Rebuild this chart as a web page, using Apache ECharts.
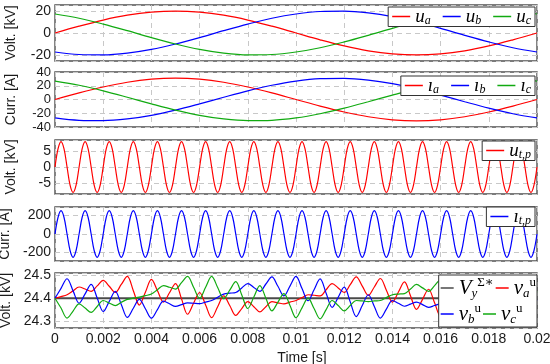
<!DOCTYPE html>
<html><head><meta charset="utf-8">
<script src="https://cdn.jsdelivr.net/npm/echarts@6/dist/echarts.min.js"></script>
<style>html,body{margin:0;padding:0;background:#fff}#c{width:550px;height:364px}</style>
</head><body><div id="c"></div>
<script>
// ---- grid-side (50 Hz) quantities, sampled every 1 ms ----
const stepSlow = 0.001;
const uA = [0,6.2,11.8,16.2,19.0,20,19.0,16.2,11.8,6.2,0,-6.2,-11.8,-16.2,-19.0,-20,-19.0,-16.2,-11.8,-6.2,0];
const uB = [-17.3,-19.6,-19.9,-18.3,-14.9,-10,-4.2,2.1,8.1,13.4,17.3,19.6,19.9,18.3,14.9,10,4.2,-2.1,-8.1,-13.4,-17.3];
const uC = [17.3,13.4,8.1,2.1,-4.2,-10,-14.9,-18.3,-19.9,-19.6,-17.3,-13.4,-8.1,-2.1,4.2,10,14.9,18.3,19.9,19.6,17.3];
const iA = [0,9.6,18.2,25.1,29.5,31,29.5,25.1,18.2,9.6,0,-9.6,-18.2,-25.1,-29.5,-31,-29.5,-25.1,-18.2,-9.6,0];
const iB = [-26.8,-30.3,-30.8,-28.3,-23.0,-15.5,-6.4,3.3,12.6,20.7,26.8,30.3,30.8,28.3,23.0,15.5,6.4,-3.3,-12.6,-20.7,-26.8];
const iC = [26.8,20.7,12.6,3.3,-6.4,-15.5,-23.0,-28.3,-30.8,-30.3,-26.8,-20.7,-12.6,-3.3,6.4,15.5,23.0,28.3,30.8,30.3,26.8];

// ---- transformer-side (1 kHz) quantities, sampled every 0.125 ms ----
const stepFast = 0.000125;
const uTP = [
0,5.7,8,5.7,0,-5.7,-8,-5.7, 0,5.7,8,5.7,0,-5.7,-8,-5.7,
0,5.7,8,5.7,0,-5.7,-8,-5.7, 0,5.7,8,5.7,0,-5.7,-8,-5.7,
0,5.7,8,5.7,0,-5.7,-8,-5.7, 0,5.7,8,5.7,0,-5.7,-8,-5.7,
0,5.7,8,5.7,0,-5.7,-8,-5.7, 0,5.7,8,5.7,0,-5.7,-8,-5.7,
0,5.7,8,5.7,0,-5.7,-8,-5.7, 0,5.7,8,5.7,0,-5.7,-8,-5.7,
0,5.7,8,5.7,0,-5.7,-8,-5.7, 0,5.7,8,5.7,0,-5.7,-8,-5.7,
0,5.7,8,5.7,0,-5.7,-8,-5.7, 0,5.7,8,5.7,0,-5.7,-8,-5.7,
0,5.7,8,5.7,0,-5.7,-8,-5.7, 0,5.7,8,5.7,0,-5.7,-8,-5.7,
0,5.7,8,5.7,0,-5.7,-8,-5.7, 0,5.7,8,5.7,0,-5.7,-8,-5.7,
0,5.7,8,5.7,0,-5.7,-8,-5.7, 0,5.7,8,5.7,0,-5.7,-8,-5.7,
0];
const iTP = [
0,177,250,177,0,-177,-250,-177, 0,177,250,177,0,-177,-250,-177,
0,177,250,177,0,-177,-250,-177, 0,177,250,177,0,-177,-250,-177,
0,177,250,177,0,-177,-250,-177, 0,177,250,177,0,-177,-250,-177,
0,177,250,177,0,-177,-250,-177, 0,177,250,177,0,-177,-250,-177,
0,177,250,177,0,-177,-250,-177, 0,177,250,177,0,-177,-250,-177,
0,177,250,177,0,-177,-250,-177, 0,177,250,177,0,-177,-250,-177,
0,177,250,177,0,-177,-250,-177, 0,177,250,177,0,-177,-250,-177,
0,177,250,177,0,-177,-250,-177, 0,177,250,177,0,-177,-250,-177,
0,177,250,177,0,-177,-250,-177, 0,177,250,177,0,-177,-250,-177,
0,177,250,177,0,-177,-250,-177, 0,177,250,177,0,-177,-250,-177,
0];

// ---- arm voltages [kV], sampled every 0.25 ms ----
const stepArm = 0.00025;
const vyRefT = [0, 0.02];
const vyRef = [24.4, 24.4];
const vaU = [
24.400,24.407,24.415,24.432,24.449,24.440,24.430,24.454,24.478,24.452,
24.425,24.460,24.495,24.433,24.370,24.426,24.482,24.433,24.383,24.424,
24.464,24.397,24.330,24.378,24.425,24.370,24.315,24.363,24.410,24.368,
24.325,24.355,24.385,24.363,24.340,24.363,24.385,24.380,24.375,24.383,
24.390,24.403,24.415,24.413,24.410,24.437,24.464,24.445,24.425,24.459,
24.493,24.453,24.412,24.449,24.486,24.435,24.383,24.427,24.471,24.411,
24.351,24.395,24.439,24.380,24.320,24.370,24.420,24.368,24.315,24.358,
24.400,24.365,24.330,24.360,24.390,24.375,24.360,24.375,24.390,24.388,
24.385];
const vbU = [
24.400,24.443,24.485,24.432,24.378,24.419,24.460,24.401,24.342,24.386,
24.430,24.373,24.316,24.356,24.395,24.354,24.313,24.350,24.387,24.376,
24.364,24.372,24.380,24.378,24.376,24.383,24.390,24.404,24.418,24.422,
24.425,24.445,24.464,24.447,24.430,24.462,24.493,24.452,24.410,24.453,
24.495,24.442,24.389,24.437,24.484,24.422,24.360,24.404,24.448,24.384,
24.320,24.368,24.415,24.364,24.313,24.352,24.390,24.378,24.365,24.374,
24.383,24.372,24.360,24.368,24.375,24.373,24.370,24.370,24.370,24.385,
24.400,24.380,24.360,24.395,24.430,24.400,24.370,24.415,24.460,24.425,
24.390];
const vcU = [
24.400,24.357,24.313,24.344,24.375,24.357,24.338,24.364,24.390,24.379,
24.368,24.382,24.395,24.400,24.405,24.411,24.418,24.437,24.455,24.448,
24.440,24.468,24.495,24.448,24.400,24.448,24.495,24.447,24.398,24.435,
24.472,24.414,24.355,24.405,24.455,24.400,24.345,24.383,24.420,24.368,
24.315,24.358,24.400,24.355,24.310,24.350,24.390,24.368,24.345,24.368,
24.390,24.388,24.385,24.388,24.390,24.403,24.415,24.418,24.420,24.440,
24.460,24.445,24.430,24.455,24.480,24.450,24.420,24.455,24.490,24.445,
24.400,24.440,24.480,24.425,24.370,24.415,24.460,24.400,24.340,24.385,
24.430];

const yNames = ['Volt. [kV]','Curr. [A]','Volt. [kV]','Curr. [A]','Volt. [kV]'];
const xName = 'Time [s]';

// ---- build ----
const pairs = (arr, step) => arr.map((v, i) => [+(i * step).toFixed(7), v]);
const RED = '#ff0000', BLUE = '#0000ff', GREEN = '#11aa11', GRAYL = '#4a4a4a';
const TXT = '#1a1a1a';
const SANS = 'Liberation Sans, Arial, sans-serif';
const SERIF = 'Liberation Serif, DejaVu Serif, serif';

const gridPos = [
  {top: 5, height: 56},
  {top: 72, height: 55},
  {top: 140, height: 54},
  {top: 207, height: 54},
  {top: 273, height: 55}
];
const yRanges = [
  {min: -25.5, max: 25.5, splitNumber: 3},
  {min: -40, max: 40, interval: 20},
  {min: -8.5, max: 8.5, splitNumber: 3},
  {min: -290, max: 290, splitNumber: 3},
  {min: 24.27, max: 24.51, splitNumber: 3}
];
const dashed = {show: true, lineStyle: {color: '#c8c8c8', type: [5, 4], width: 1}};

const grid = gridPos.map(g => ({left: 55, right: 13, top: g.top, height: g.height, show: true,
  outerBoundsMode: 'none', containLabel: false,
  borderColor: '#505050', borderWidth: 1.4, backgroundColor: 'transparent'}));

const xAxis = gridPos.map((g, i) => ({
  type: 'value', gridIndex: i, min: 0, max: 0.02, interval: 0.002,
  axisLine: {show: false}, axisTick: {show: false}, splitLine: dashed,
  axisLabel: {show: i === 4, fontFamily: SANS, fontSize: 14, color: TXT, margin: 4,
    formatter: v => String(+v.toFixed(4))},
  name: i === 4 ? xName : '', nameLocation: 'middle', nameGap: 23,
  nameTextStyle: {fontFamily: SANS, fontSize: 14, color: TXT, padding: [0, 0, 0, 12]}
}));

const yAxis = yRanges.map((r, i) => Object.assign({
  type: 'value', gridIndex: i, scale: true,
  axisLine: {show: false}, axisTick: {show: false}, splitLine: dashed,
  axisLabel: {fontFamily: SANS, fontSize: i === 1 ? 13 : 14, lineHeight: 13, color: TXT, margin: 4,
    showMinLabel: i === 1, showMaxLabel: i === 1, hideOverlap: false,
    formatter: v => i === 4 ? v.toFixed(1) : String(Math.round(v))},
  name: yNames[i], nameLocation: 'middle', nameRotate: 90, nameGap: 37,
  nameTextStyle: {fontFamily: SANS, fontSize: 14, color: TXT}
}, r));

function line(name, data, color, gi, width) {
  return {name, type: 'line', data, xAxisIndex: gi, yAxisIndex: gi, symbol: 'none', showSymbol: false,
    smooth: 0.35, lineStyle: {color, width: width || 1.2}, itemStyle: {color}, z: 3};
}

const series = [
  line('ua', pairs(uA, stepSlow), RED, 0), line('ub', pairs(uB, stepSlow), BLUE, 0), line('uc', pairs(uC, stepSlow), GREEN, 0),
  line('ia', pairs(iA, stepSlow), RED, 1), line('ib', pairs(iB, stepSlow), BLUE, 1), line('ic', pairs(iC, stepSlow), GREEN, 1),
  line('ut', pairs(uTP, stepFast), RED, 2),
  line('it', pairs(iTP, stepFast), BLUE, 3),
  line('vy', vyRefT.map((t, k) => [t, vyRef[k]]), GRAYL, 4, 2),
  line('va', pairs(vaU, stepArm), RED, 4), line('vb', pairs(vbU, stepArm), BLUE, 4), line('vc', pairs(vcU, stepArm), GREEN, 4)
];

const labels = {
  ua: '{m|u}{b|a}', ub: '{m|u}{b|b}', uc: '{m|u}{b|c}',
  ia: '{m|ı}{b|a}', ib: '{m|ı}{b|b}', ic: '{m|ı}{b|c}',
  ut: '{m|u}{b|t,p}', it: '{m|ı}{b|t,p}',
  vy: '{M|V}{B|y}{P|Σ∗}', va: '{M|v}{B|a}{P|u}', vb: '{M|v}{B|b}{P|u}', vc: '{M|v}{B|c}{P|u}'
};
const rich = {
  m: {fontFamily: SERIF, fontStyle: 'italic', fontSize: 19, color: '#000', lineHeight: 20},
  b: {fontFamily: SERIF, fontStyle: 'italic', fontSize: 12, color: '#000', lineHeight: 12, verticalAlign: 'bottom'},
  p: {fontFamily: SERIF, fontSize: 12, color: '#000', lineHeight: 12, verticalAlign: 'top'},
  M: {fontFamily: SERIF, fontStyle: 'italic', fontSize: 21, color: '#000', lineHeight: 24},
  B: {fontFamily: SERIF, fontStyle: 'italic', fontSize: 13, color: '#000', lineHeight: 12, verticalAlign: 'bottom'},
  P: {fontFamily: SERIF, fontSize: 13, color: '#000', lineHeight: 12, verticalAlign: 'top'}
};
function legend(data, opts) {
  return Object.assign({
    show: true, data, orient: 'horizontal', icon: 'rect', itemWidth: 18, itemHeight: 1.5, itemGap: 8,
    backgroundColor: '#fff', borderColor: '#333', borderWidth: 1, borderRadius: 0, padding: [0, 4, 0, 4],
    formatter: n => labels[n], textStyle: {rich: rich}, selectedMode: false
  }, opts);
}
const legends = [
  legend(['ua', 'ub', 'uc'], {right: 15, top: 7, itemGap: 12}),
  legend(['ia', 'ib', 'ic'], {right: 15, top: 76, itemGap: 12}),
  legend(['ut'], {right: 15, top: 141}),
  legend(['it'], {right: 15, top: 207}),
  legend(['vy', 'va', 'vb', 'vc'], {right: 13, top: 275, width: 106, itemGap: 2, itemWidth: 13,
    padding: [1, 1, 1, 2]})
];

const chart = echarts.init(document.getElementById('c'), null, {renderer: 'canvas'});
chart.setOption({animation: false, backgroundColor: '#fff', grid, xAxis, yAxis, series, legend: legends});
</script></body></html>
